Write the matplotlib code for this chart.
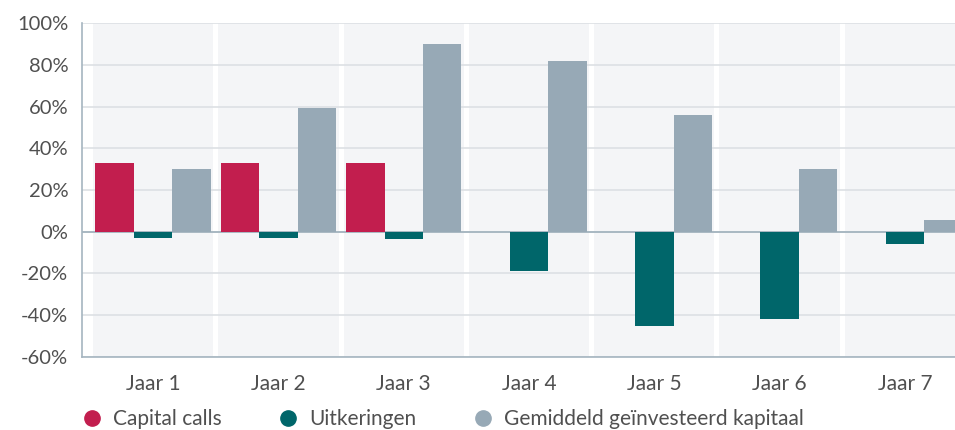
import numpy as np
import matplotlib
matplotlib.use("Agg")
import matplotlib.pyplot as plt
from matplotlib.lines import Line2D
from matplotlib.ticker import FuncFormatter

plt.rcParams['font.family'] = ['Lato', 'DejaVu Sans']

jaren = ["Jaar 1", "Jaar 2", "Jaar 3", "Jaar 4", "Jaar 5", "Jaar 6", "Jaar 7"]
capital_calls = [33, 33, 33, 0, 0, 0, 0]
uitkeringen = [-3, -3, -3.7, -19, -45, -42, -6]
kapitaal = [30, 59.5, 90, 82, 56, 30, 5.5]

labels = ["Capital calls", "Uitkeringen", "Gemiddeld geïnvesteerd kapitaal"]
colors = ["#c21e4e", "#00666a", "#97a9b6"]

fig = plt.figure(figsize=(9.55, 4.30), dpi=100)
ax = fig.add_axes([0.086, 0.170, 0.914, 0.776])

x = np.arange(len(jaren))
w = 0.307

# grey category bands
ax.bar(x, 160, width=0.96, bottom=-60, color="#f4f5f7", zorder=0.1)

for i, (vals, c) in enumerate(zip([capital_calls, uitkeringen, kapitaal], colors)):
    ax.bar(x + (i - 1) * w, vals, width=w, color=c, linewidth=0, zorder=2)

ax.set_ylim(-60, 100)
ax.set_xlim(-0.567, 6.40)
ax.set_yticks(np.arange(-60, 101, 20))
ax.yaxis.set_major_formatter(FuncFormatter(lambda v, p: "%d%%" % v))
ax.set_xticks(x)
ax.set_xticklabels(jaren)

ax.set_axisbelow(True)
ax.yaxis.grid(True, color="#dde0e4", linewidth=1.2, zorder=0.5)
ax.axhline(0, color="#a5b5c0", linewidth=1.3, zorder=1.5)

for s in ["top", "right"]:
    ax.spines[s].set_visible(False)
ax.spines["left"].set_color("#a5b5c0")
ax.spines["bottom"].set_color("#a5b5c0")
ax.spines["left"].set_linewidth(1.2)
ax.spines["bottom"].set_linewidth(1.2)

ax.tick_params(axis="y", length=0, pad=10, labelsize=14.5, labelcolor="#505050")
ax.tick_params(axis="x", length=0, pad=12, labelsize=15, labelcolor="#505050")

handles = [Line2D([], [], marker="o", linestyle="", markersize=11,
                  markerfacecolor=c, markeredgecolor=c) for c in colors]
fig.legend(handles, labels, loc="center left", bbox_to_anchor=(0.0855, 0.025),
           ncol=3, frameon=False, fontsize=15, labelcolor="#505050",
           handletextpad=0.5, columnspacing=2.7, handlelength=1.0,
           borderpad=0, borderaxespad=0)

fig.savefig("out.png", dpi=100)
